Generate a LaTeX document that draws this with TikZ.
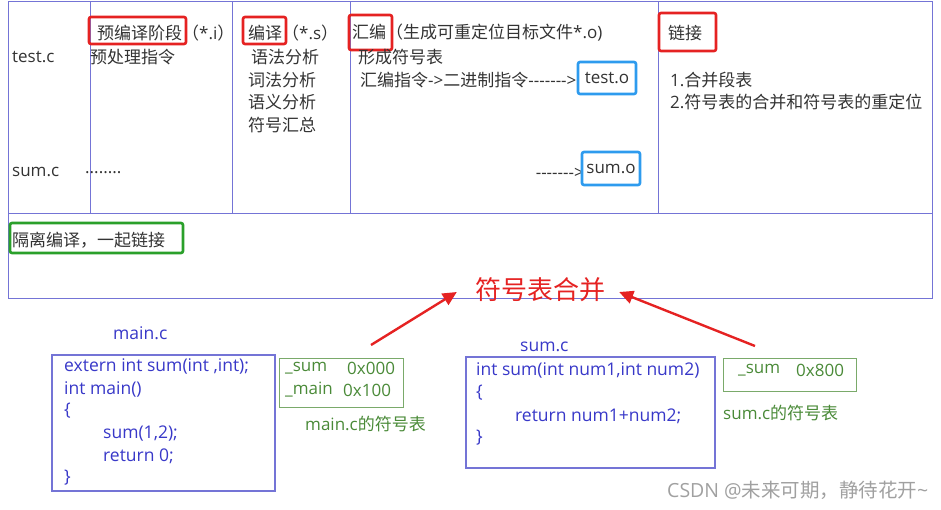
\documentclass[tikz,border=0pt]{standalone}
\usepackage{fontspec}
\setmainfont{Noto Sans CJK SC}
\newfontfamily\latf{Open Sans}
\newcommand\la[1]{{\latf #1}}
\newcommand\dsh{\hbox{-}}
\usetikzlibrary{arrows.meta}
\definecolor{tline}{HTML}{7474D6}
\definecolor{tgray}{HTML}{333333}
\definecolor{rbox}{HTML}{E52222}
\definecolor{bbox}{HTML}{2E9BEE}
\definecolor{gbox}{HTML}{2AA02A}
\definecolor{ctext}{HTML}{3838C8}
\definecolor{stext}{HTML}{4A8A38}
\definecolor{sline}{HTML}{7AAA6A}
\definecolor{wm}{HTML}{A0A0A0}
\begin{document}
\begin{tikzpicture}[x=1pt,y=-1pt,
  txt/.style={anchor=west,inner sep=0,text=tgray,font=\fontsize{17}{20}\selectfont},
  lat/.style={anchor=west,inner sep=0,text=tgray,font=\latf\fontsize{17}{20}\selectfont},
  code/.style={anchor=west,inner sep=0,text=ctext,font=\latf\fontsize{17.5}{21}\selectfont},
  sym/.style={anchor=west,inner sep=0,text=stext,font=\latf\fontsize{17}{20}\selectfont},
  redbox/.style={draw=rbox,line width=2.6pt,rounded corners=2pt,inner sep=0},
  bluebox/.style={draw=bbox,line width=2.6pt,rounded corners=2pt,inner sep=0,text=tgray,font=\latf\fontsize{17}{20}\selectfont},
  greenbox/.style={draw=gbox,line width=2.6pt,rounded corners=2pt,inner sep=0},
  codebox/.style={draw=tline,line width=1.1pt,inner sep=0},
  symbox/.style={draw=sline,line width=1pt,inner sep=0},
  redarrow/.style={draw=rbox,line width=2.4pt,-{Triangle[length=14pt,width=13pt]}}
]
\useasboundingbox (0,0) rectangle (941,509);
% table
\draw[tline,line width=1pt] (8,1) rectangle (932,298);
\draw[tline,line width=1pt] (8,213) -- (932,213);
\foreach \x in {90,232,350,658} \draw[tline,line width=1pt] (\x,1) -- (\x,213);
% column 0
\node[lat] (testc) at (12,57) {test.c};
\node[lat] (sumc) at (12,172) {sum.c};
% column 1
\node[redbox,minimum width=97pt,minimum height=27pt] (r1) at (137.5,30.5) {};
\node[txt] (pre) at (97,33) {预编译阶段（\la{*.i}）};
\node[txt] (pre2) at (90,57) {预处理指令};
\node[lat] (dots) at (85,173) {........};
% column 2
\node[redbox,minimum width=43pt,minimum height=27pt] (r2) at (264.5,30.5) {};
\node[txt] (comp) at (248,33) {编译（\la{*.s}）};
\node[txt] (c1) at (251,57) {语法分析};
\node[txt] (c2) at (248,80) {词法分析};
\node[txt] (c3) at (248,102) {语义分析};
\node[txt] (c4) at (248,125) {符号汇总};
% column 3
\node[redbox,minimum width=43pt,minimum height=35pt] (r3) at (370.5,32.5) {};
\node[txt] (asm) at (352,33) {汇编（生成可重定位目标文件\la{*.o)}};
\node[txt] (asm2) at (358,57) {形成符号表};
\node[txt] (asm3) at (360,80) {汇编指令\la{->}二进制指令\la{\dsh\dsh\dsh\dsh\dsh\dsh\dsh>}};
\node[bluebox,minimum width=58pt,minimum height=32pt] (testo) at (607,78) {test.o};
\node[lat,anchor=east] (dash2) at (584,173) {\dsh\dsh\dsh\dsh\dsh\dsh\dsh>};
\node[bluebox,minimum width=58pt,minimum height=33pt] (sumo) at (611,168.5) {sum.o};
% column 4
\node[redbox,minimum width=57pt,minimum height=38pt] (r4) at (687.5,32) {};
\node[txt] (link) at (668,33) {链接};
\node[txt] (l1) at (670,80) {\la{1.}合并段表};
\node[txt] (l2) at (670,102) {\la{2.}符号表的合并和符号表的重定位};
% second row
\node[greenbox,minimum width=173pt,minimum height=30pt] (g1) at (96.5,238) {};
\node[txt] (iso) at (12,240) {隔离编译，一起链接};
% merge
\node[inner sep=0,text=rbox,font=\fontsize{26}{30}\selectfont] (merge) at (540,290) {符号表合并};
\coordinate (a1s) at (371,345);
\coordinate (a2s) at (755,346);
\draw[redarrow] (a1s) -- ([xshift=-18pt,yshift=-2pt]merge.west);
\draw[redarrow] (a2s) -- ([xshift=14pt,yshift=-2pt]merge.east);
% main.c
\node[code] (mainlbl) at (113,333) {main.c};
\node[codebox,minimum width=223pt,minimum height=136pt] (mainbox) at (163.5,423) {};
\node[code] (m1) at (64,366) {extern int sum(int ,int);};
\node[code] (m2) at (64,389) {int main()};
\node[code] (m3) at (64,411) {\{};
\node[code] (m4) at (103,434) {sum(1,2);};
\node[code] (m5) at (103,456) {return 0;};
\node[code] (m6) at (64,478) {\}};
\node[symbox,minimum width=124pt,minimum height=49pt] (msym) at (341,382.5) {};
\node[sym] (ms1) at (285,368) {\_sum};
\node[sym] (ms1v) at (347,368) {0x000};
\node[sym] (ms2) at (285,390) {\_main};
\node[sym] (ms2v) at (343,390) {0x100};
\node[sym,font=\fontsize{17}{20}\selectfont] (mslbl) at (305,424) {\la{main.c}的符号表};
% sum.c
\node[code] (sumlbl) at (520,347) {sum.c};
\node[codebox,minimum width=249pt,minimum height=111pt] (sumbox) at (590.5,412.5) {};
\node[code] (s1) at (476,370) {int sum(int num1,int num2)};
\node[code] (s2) at (476,393) {\{};
\node[code] (s3) at (515,416) {return num1+num2;};
\node[code] (s4) at (476,438) {\}};
\node[symbox,minimum width=133pt,minimum height=33pt] (ssym) at (789.5,374.5) {};
\node[sym] (ss1) at (738,370) {\_sum};
\node[sym] (ss1v) at (796,370) {0x800};
\node[sym,font=\fontsize{17}{20}\selectfont] (sslbl) at (723,413) {\la{sum.c}的符号表};
% watermark
\node[anchor=west,inner sep=0,text=wm,font=\fontsize{19.5}{23}\selectfont] (wmark) at (667,490) {\la{CSDN @}未来可期，静待花开\la{\textasciitilde}};
\end{tikzpicture}
\end{document}
